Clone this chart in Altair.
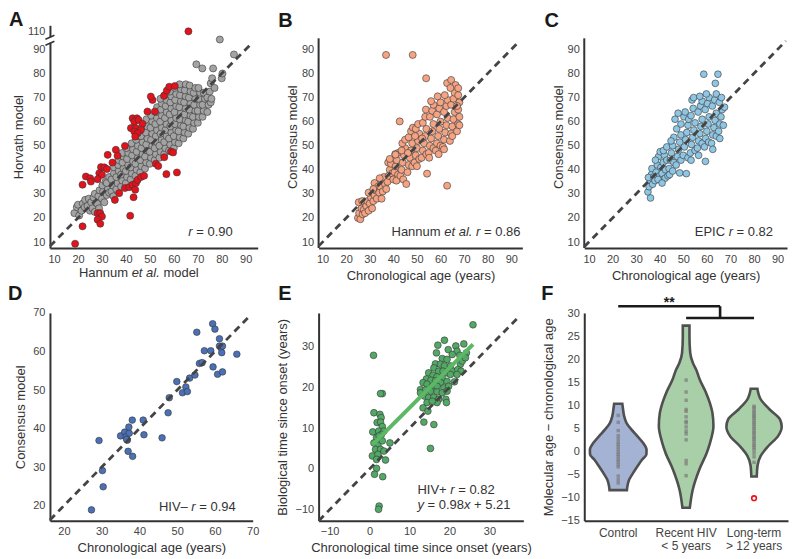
import altair as alt
import pandas as pd

FONT = "Liberation Sans"
INK = "#333333"
LABEL = "#444444"

# ---------------- Panel A : Hannum vs Horvath ----------------
A_GREY = [
    (18.5, 22), (19.5, 24.5), (20.5, 21), (20, 25.5),
    (21.5, 23), (22, 26), (22.8, 24.5), (23, 27.5),
    (24, 25), (24.5, 28), (25, 23), (25.5, 26.5),
    (26, 24), (26.5, 28.5), (27, 30), (27, 22.5),
    (28, 26), (28.5, 29), (29, 31.5), (28.8, 24),
    (30, 28), (30.5, 31), (30.2, 33.5), (31, 26.5), (31.5, 35),
    (32, 29.5), (32.5, 32), (32, 34.5), (33, 37), (33, 30.5),
    (34, 31), (34.5, 33.5), (34, 36), (35, 38.5), (35, 41), (34.8, 29),
    (36, 32), (36.5, 34.5), (36, 37), (37, 39.5), (36.8, 42), (37, 44),
    (38, 33), (38.5, 35.5), (38, 38), (39, 40.5), (38.6, 43), (39, 45.5), (38.5, 47),
    (40, 34.5), (40.5, 37), (40, 39.5), (41, 42), (40.5, 44.5), (41, 47), (40.2, 49),
    (42, 36), (42.5, 38.5), (42, 41), (43, 43.5), (42.6, 46), (43, 48.5), (42.4, 51),
    (44, 37.5), (44.5, 40), (44, 42.5), (45, 45), (44.5, 47.5), (45, 50), (44.3, 52.5), (45, 54),
    (46, 39), (46.5, 41.5), (46, 44), (47, 46.5), (46.5, 49), (47, 51.5), (46.3, 54), (47, 56.5),
    (48, 40.5), (48.5, 43), (48, 45.5), (49, 48), (48.5, 50.5), (49, 53), (48.3, 55.5), (49, 58), (48.6, 61),
    (50, 42.5), (50.5, 45), (50, 47.5), (51, 50), (50.5, 52.5), (51, 55), (50.3, 57.5), (51, 60), (50.6, 62.5),
    (52, 44), (52.5, 46.5), (52, 49), (53, 51.5), (52.5, 54), (53, 56.5), (52.3, 59), (53, 61.5), (52.6, 64), (53, 66),
    (54, 45), (54.5, 47.5), (54, 50), (55, 52.5), (54.5, 55), (55, 57.5), (54.3, 60), (55, 62.5), (54.6, 65), (55, 67.5), (54.4, 69.5),
    (56, 46.5), (56.5, 49), (56, 51.5), (57, 54), (56.5, 56.5), (57, 59), (56.3, 61.5), (57, 64), (56.6, 66.5), (57, 69), (56.2, 71),
    (58, 48), (58.5, 50.5), (58, 53), (59, 55.5), (58.5, 58), (59, 60.5), (58.3, 63), (59, 65.5), (58.6, 68), (59, 70.5), (58.4, 72.5),
    (60, 49), (60.5, 51.5), (60, 54), (61, 56.5), (60.5, 59), (61, 61.5), (60.3, 64), (61, 66.5), (60.6, 69), (61, 71.5), (60.4, 74),
    (62, 51), (62.5, 53.5), (62, 56), (63, 58.5), (62.5, 61), (63, 63.5), (62.3, 66), (63, 68.5), (62.6, 71), (63, 73.5), (62.4, 75.5),
    (64, 53), (64.5, 55.5), (64, 58), (65, 60.5), (64.5, 63), (65, 65.5), (64.3, 68), (65, 70.5), (64.6, 73), (65, 75.5),
    (66, 55), (66.5, 57.5), (66, 60), (67, 62.5), (66.5, 65), (67, 67.5), (66.3, 70), (67, 72.5), (66.6, 75),
    (68, 57), (68.5, 59.5), (68, 62), (69, 64.5), (68.5, 67), (69, 69.5), (68.3, 72), (69, 74),
    (70, 59.5), (70.5, 62), (70, 64.5), (71, 67), (70.5, 69.5), (71, 72), (70.3, 74),
    (72, 62), (72.5, 64.5), (72, 67), (73, 69.5), (72.5, 72),
    (74, 64), (74.5, 67), (74, 70), (75, 72.5), (75.4, 68), (75.7, 69.5),
    (76.4, 82.1), (79.2, 94.1), (85.1, 87.9), (69.4, 83.8), (71.9, 82.1), (80, 78), (80.3, 80),
    (75.4, 75.9), (77, 74), (76, 78),
]
A_RED = [
    (55.9, 70.7), (57.1, 72.9), (58.1, 74.5), (60.4, 74.8), (51.1, 69.0), (50.4, 70.4),
    (49.0, 64.2), (52.1, 64.2), (42.8, 61.4), (44.6, 61.4), (43.5, 60.0), (45.3, 60.7),
    (46.9, 59.1), (42.1, 57.3), (44.2, 57.3), (46.3, 56.6), (43.5, 55.9), (44.9, 55.2),
    (43.9, 53.8), (39.6, 49.9), (35.8, 48.3), (36.5, 45.8), (32.4, 46.2), (34.4, 43.0),
    (29.6, 41.1), (31.0, 41.0), (32.1, 40.3), (28.9, 38.6), (30.0, 37.9), (28.2, 36.1),
    (23.3, 37.2), (25.1, 36.5), (25.4, 35.1), (21.9, 33.8), (28.2, 22.0), (29.3, 22.0),
    (30.0, 20.6), (28.2, 19.3), (29.3, 17.6), (21.9, 16.5), (18.8, 9.3), (41.8, 20.9),
    (35.4, 27.5), (37.2, 30.3), (39.6, 32.4), (41.4, 32.8), (42.8, 33.8), (44.2, 34.5),
    (44.9, 35.8), (46.3, 37.0), (47.6, 37.5), (43.2, 28.6), (43.9, 31.7), (52.5, 42.5),
    (53.5, 41.6), (56.9, 38.2), (61.3, 38.9), (56.0, 45.2), (58.8, 47.6), (59.7, 47.2),
    (66.1, 110),
]
A_BREAK_VALUE = 110      # plotted just above the axis break
A_BREAK_POS = 97.5
DIAG_A = [8.3, 93]

# ---------------- Panel B : Hannum vs chronological age ----------------
B_PTS = [
    (25, 20), (25.5, 22), (26, 19.5), (26.5, 24), (25.3, 26.5), (27, 21.5), (27.5, 23.5), (26.8, 27),
    (28, 22), (28.5, 25), (29, 27), (29.5, 23), (30, 26), (30.5, 28.5), (29.5, 30.5), (31, 24),
    (31.5, 27), (32, 29.5), (32.5, 31.5), (33, 28), (32, 34.5), (33.5, 33), (31.5, 32),
    (34, 30.5), (34.5, 33), (35, 35.5), (35.5, 31), (36, 37), (35, 28), (36.5, 34), (34.2, 36.5),
    (37, 32), (37.5, 35), (38, 37.5), (38.5, 40), (37.8, 43), (39, 42.5), (39.5, 38.5), (38.5, 44.5),
    (40, 36), (40.5, 39), (41, 41.5), (41.5, 44), (42, 47), (40.8, 46.5), (42, 38), (41.3, 35.5), (42.7, 60.1),
    (43, 37.5), (43.5, 40), (44, 43), (44.5, 46), (45, 49), (43.8, 51), (45, 52.5), (44.2, 36), (45.5, 34.1), (43.5, 48),
    (46, 39), (46.5, 42), (47, 45), (47.5, 48), (48, 51), (46.5, 53.5), (47.5, 56), (48, 41.5), (46.2, 47), (48.3, 57.5),
    (49, 43), (49.5, 46), (50, 49), (50.5, 52), (51, 55), (49.5, 57), (50.5, 59), (51, 44.5), (50, 41.5), (49.2, 54),
    (52, 45), (52.5, 48), (53, 51), (53.5, 54), (54, 57), (52.5, 59.5), (53.5, 62), (54, 46.5), (52.2, 53), (54.3, 38.4), (53.8, 65),
    (55, 47), (55.5, 50), (56, 53), (56.5, 56), (57, 59), (55.5, 62), (56.5, 64.5), (57, 67), (55.2, 45), (57, 49), (56, 68.5),
    (58, 48), (58.5, 51), (59, 54), (59.5, 57), (60, 60), (58.5, 63), (59.5, 65.5), (60, 68), (58.8, 70.5), (60, 50), (59.2, 46.5),
    (61, 49.5), (61.5, 52.5), (62, 55.5), (62.5, 58.5), (63, 61.5), (61.5, 64), (62.5, 66.5), (63, 69), (61.8, 71), (62.8, 76), (62.8, 33.4), (61.5, 48.5),
    (64, 52), (64.5, 55), (65, 58), (65.5, 61), (66, 64), (64.5, 67), (65.5, 69.5), (66, 72), (64.5, 77.3), (66.4, 75.2), (65, 54), (64.2, 74),
    (67, 56), (67.5, 59), (68, 62), (67.5, 65), (68, 68), (67.5, 71), (67.5, 73.9), (68, 58.5), (67, 66.5),
    (36.9, 87.7), (48.2, 87.7), (53.9, 78.0), (40.9, 46.3),
]
DIAG_B = [8.3, 93.5]

# ---------------- Panel C : EPIC vs chronological age ----------------
C_PTS = [
    (35, 30.8), (36.1, 28.3), (35.5, 33), (36, 35.5), (36.5, 38), (35.2, 36.8), (37, 34), (36.7, 40.5), (37.5, 37),
    (38, 35.5), (38.5, 39), (39, 42), (39.5, 45.5), (38.2, 44), (40, 37.5), (40.5, 41), (39.3, 36), (40.2, 47.5),
    (41, 38.5), (41.5, 43), (42, 46), (42.5, 40), (43, 44), (41.6, 48), (43, 49.5), (42.3, 36.5), (43.5, 37.5), (41, 34.5),
    (44, 40.5), (44.5, 44), (45, 47), (45.5, 50), (44.2, 38), (46, 43), (46, 53.5), (44.8, 52), (46.5, 61), (45.5, 39.5),
    (47, 42), (47.5, 45.5), (48, 48.5), (48.5, 51.5), (49, 54.5), (47.2, 57), (48.5, 38.7), (49, 44), (47.8, 63.5), (49, 59),
    (50, 46), (50.5, 49.5), (51, 52.5), (51.5, 55.5), (52, 58.5), (50.3, 62), (51.3, 38.4), (52, 45), (50.8, 64), (52.3, 61),
    (53, 47), (53.5, 50.5), (54, 53.5), (54.5, 56.5), (55, 59.5), (53.3, 62.5), (54.2, 65.5), (53.7, 69), (54.4, 70), (55, 48), (53.3, 44),
    (56, 49), (56.5, 52), (57, 55), (57.5, 58), (58, 61), (56.3, 64), (57.3, 66.5), (58, 68.5), (56.5, 46), (58, 51), (57, 70.5),
    (59, 49.5), (59.5, 53), (60, 56), (60.5, 59), (61, 62), (59.3, 65), (60.3, 67.5), (61, 70), (59.4, 43.5), (60.8, 51.5), (59.8, 71.5), (58.7, 79.7),
    (62, 51), (62.5, 54.5), (63, 57.5), (63.5, 60.5), (64, 63.5), (62.3, 66.5), (63.3, 69), (64, 71.5), (63.6, 75.9), (62.5, 48.5), (64, 54),
    (65, 56), (65.5, 59), (66, 62), (66.5, 65), (65.3, 68), (66.2, 70), (67, 58.5), (67.5, 66), (64.7, 79.7), (65.5, 53),
]
DIAG_C = [8.0, 93.5]

# ---------------- Panel D : HIV- ----------------
D_PTS = [
    (27.3, 18.9), (29.3, 36.9), (30.2, 29.1), (30.4, 24.9), (35.0, 38.1), (36.1, 39.1), (36.5, 37.9),
    (36.8, 37.0), (37.3, 38.8), (37.2, 40.4), (37.0, 34.1), (38.1, 42.2), (38.2, 32.8), (36.6, 37.2),
    (41.0, 42.2), (41.2, 38.4), (46.0, 37.6), (47.6, 44.1), (47.9, 48.0), (49.9, 52.2), (51.4, 49.3),
    (52.3, 50.8), (52.7, 49.6), (53.3, 53.1), (54.7, 53.9), (55.2, 65.0), (55.9, 56.9), (56.6, 57.1),
    (57.2, 60.2), (58.9, 60.2), (59.5, 56.0), (59.4, 67.2), (60.0, 65.8), (60.7, 54.1), (61.2, 63.3),
    (61.2, 61.4), (61.6, 61.0), (61.8, 59.7), (62.0, 61.4), (62.0, 54.7), (65.8, 59.3),
]
DIAG_D = [16.3, 69.5]

# ---------------- Panel E : HIV+ time since onset ----------------
E_PTS = [
    (1.0, 27.9), (3.2, 18.5), (2.75, 18.5), (25.9, 35.4), (15.25, 5.05), (2.4, -9.1), (2.25, -9.9),
    (16.1, 10.9), (13.6, 11.5), (3.3, -1.9), (1.75, 0.15), (1.25, -1.3), (5.1, 6.4), (4.0, 2.2),
    (1.1, 13.8), (2.6, 13.4), (2.9, 12.6), (1.9, 11.4), (2.75, 11.5), (3.2, 10.4), (0.8, 9.1),
    (2.3, 9.3), (3.6, 9.3), (3.0, 8.5), (1.75, 7.7), (2.6, 7.3), (1.1, 6.4), (2.1, 5.8), (3.2, 6.9),
    (1.5, 4.8), (2.75, 4.8), (0.7, 3.2), (2.1, 3.6), (3.6, 4.4), (1.75, 2.35), (2.4, 8.1),
    (17.1, 30.4), (18.75, 31.6), (19.7, 29.3), (21.6, 30.2), (23.6, 30.7), (21.9, 28.9), (20.7, 28.1),
    (22.6, 27.9), (24.25, 28.5), (16.75, 28.5), (18.2, 27.1), (19.4, 26.9), (16.5, 25.8), (17.75, 25.7),
    (18.75, 25.3), (20.25, 25.3), (22.75, 25.7), (16.1, 24.8), (17.3, 24.0), (18.4, 24.0), (19.4, 23.6),
    (20.9, 24.0), (22.1, 24.4), (22.9, 24.0), (14.8, 23.6), (15.9, 23.0), (16.9, 22.6), (18.2, 22.4),
    (20.25, 23.2), (21.9, 23.2), (14.25, 22.1), (15.4, 21.8), (16.5, 21.6), (17.75, 21.2), (19.4, 21.5),
    (21.25, 21.4), (13.4, 21.2), (14.4, 20.8), (15.7, 20.3), (16.9, 20.3), (18.6, 19.9), (19.8, 20.3),
    (12.75, 19.5), (14.0, 19.4), (15.25, 19.1), (16.9, 18.9), (18.2, 18.7), (19.4, 19.1), (12.75, 18.7),
    (13.75, 17.9), (14.8, 17.5), (16.1, 17.6), (17.3, 17.1), (19.1, 17.1), (19.25, 16.3), (16.9, 16.3),
    (14.4, 16.3), (13.4, 15.0), (14.6, 14.2), (15.7, 16.6), (23.2, 26.5), (24.0, 27.3),
]
E_SLOPE = 0.98
E_INTERCEPT = 5.21
DIAG_E = [-12.7, 37.6]

# ---------------- Panel F : violins ----------------
F_GROUPS = ["Control", "Recent HIV", "Long-term"]
F_LABELS = ["Control", "Recent HIV\n< 5 years", "Long-term\n> 12 years"]
F_FILLS = ["#a4b2d4", "#a9cfa8", "#a9cfa8"]
# (value, half width in category units)
CONTROL_PROFILE = [(10.45, .06), (9.15, .072), (7.7, .088), (6.25, .123), (4.8, .196), (3.35, .284),
                   (1.9, .368), (0.45, .417), (-0.6, .415), (-1.7, .353), (-3.15, .284), (-4.6, .22),
                   (-6.05, .162), (-7.5, .135), (-8.35, .128)]
RECENT_PROFILE = [(27.45, .049), (25.1, .049), (21.5, .06), (19.3, .10), (17.9, .147), (15.7, .2),
                  (12.8, .294), (10.6, .35), (8.5, .387), (5.6, .402), (2.0, .353), (-0.2, .304),
                  (-3.8, .196), (-8.2, .098), (-12.2, .054)]
LONG_PROFILE = [(13.7, .049), (11.4, .098), (9.2, .23), (7.05, .382), (5.45, .407), (3.4, .353),
                (1.25, .211), (-0.9, .098), (-3.1, .05), (-5.4, .04)]
CONTROL_DOTS = [7.9, 6.4, 4.6, 3.5, 2.8, 2.1, 1.6, 1.1, 0.5, -0.1, -0.6, -1.1, -1.7, -2.2, -2.8,
                -3.3, -5.3, -6.1, -6.8]
RECENT_DOTS = [15.6, 13.0, 11.2, 9.2, 8.8, 7.6, 6.6, 6.3, 5.4, 4.5, 3.9, 2.6, -1.9, -2.6, -5.2]
LONG_DOTS = [9.9, 9.6, 9.1, 8.7, 8.3, 7.9, 7.6, 7.2, 6.8, 6.3, 6.0, 5.5, 5.1, 4.7, 4.2, 3.9, 3.4,
             3.0, 2.7, 2.2, 1.7, 1.3, 0.9, 0.4, -0.3, -1.1, -2.3]
LONG_OUTLIER = [-10.1]
BR_X1 = [0, 1.5, 1]
BR_X2 = [1.5, 1.5, 2]
BR_Y1 = [31.66, 31.66, 29.1]
BR_Y2 = [31.66, 29.1, 29.1]
SIG_TEXT = "**"

ONE = pd.DataFrame({"k": [0]})


def txt(s, x, y, size=13, style="normal", weight="normal", align="left", color=INK):
    return alt.Chart(ONE).mark_text(
        text=s, align=align, baseline="alphabetic", font=FONT, fontSize=size,
        fontStyle=style, fontWeight=weight, color=color,
    ).encode(x=alt.value(x), y=alt.value(y))


def letter(s, x, y):
    return txt(s, x, y, size=20, weight="bold", color="#1a1a1a")


def pts_df(pairs):
    return pd.DataFrame(pairs, columns=["x", "y"])


def points(df, xs, ys, xax, yax, fill, size=50, yfield="y"):
    return alt.Chart(df).mark_point(
        shape="circle", filled=True, fill=fill, stroke="#383838", strokeWidth=0.6,
        size=size, opacity=1,
    ).encode(
        x=alt.X("x:Q", scale=xs, axis=xax),
        y=alt.Y(yfield + ":Q", scale=ys, axis=yax),
    )


def diag(ends, xs, ys, xax, yax):
    return alt.Chart(pd.DataFrame({"x": ends, "y": ends})).mark_line(
        color="#444444", strokeDash=[7, 5], strokeWidth=2.8,
    ).encode(x=alt.X("x:Q", scale=xs, axis=xax), y=alt.Y("y:Q", scale=ys, axis=yax))


def sc(lo, hi):
    return alt.Scale(domain=[lo, hi], nice=False, zero=False)


ROW1_Y = sc(7.5, 100)
TICKS_10_90 = list(range(10, 100, 10))

# ----- A -----
xsA = sc(8.3, 95)
xaxA = alt.Axis(values=TICKS_10_90, title=None)
yaxA = alt.Axis(values=TICKS_10_90 + [A_BREAK_POS], title="Horvath model", titlePadding=2,
                labelExpr=f"datum.value > 95 ? '{A_BREAK_VALUE}' : datum.label")
dfA_red = pts_df(A_RED)
dfA_red["yp"] = [A_BREAK_POS if v > 100 else v for v in dfA_red["y"]]
panelA = alt.layer(
    points(pts_df(A_GREY), xsA, ROW1_Y, xaxA, yaxA, "#a3a3a3"),
    diag(DIAG_A, xsA, ROW1_Y, xaxA, yaxA),
    points(dfA_red, xsA, ROW1_Y, xaxA, yaxA, "#e3121b", yfield="yp"),
    alt.Chart(ONE).mark_rect(color="white").encode(
        x=alt.value(-3), x2=alt.value(3), y=alt.value(12), y2=alt.value(17.5)),
    alt.Chart(ONE).mark_rule(color=INK, strokeWidth=1.6).encode(
        x=alt.value(-4.5), x2=alt.value(4.5), y=alt.value(14), y2=alt.value(10)),
    alt.Chart(ONE).mark_rule(color=INK, strokeWidth=1.6).encode(
        x=alt.value(-4.5), x2=alt.value(4.5), y=alt.value(20), y2=alt.value(16)),
    txt("r", 138.6, 211, style="italic"),
    txt("= 0.90", 146.5, 211),
    txt("Hannum", 29, 252),
    txt("et al.", 81.8, 252, style="italic"),
    txt("model", 113.6, 252),
    letter("A", -41, 1),
).properties(width=208, height=223)

# ----- B -----
xsB = sc(8.3, 94.7)
xaxB = alt.Axis(values=TICKS_10_90, title="Chronological age (years)")
yaxB = alt.Axis(values=TICKS_10_90, title="Consensus model", domain=False, titlePadding=2)
panelB = alt.layer(
    alt.Chart(ONE).mark_rule(color=INK, strokeWidth=2).encode(
        x=alt.value(0), y=alt.Y(datum=7.5, scale=ROW1_Y, axis=yaxB), y2=alt.datum(94.6)),
    points(pts_df(B_PTS), xsB, ROW1_Y, xaxB, yaxB, "#f4a383"),
    diag(DIAG_B, xsB, ROW1_Y, xaxB, yaxB),
    txt("Hannum", 73, 211),
    txt("et al. r", 125.8, 211, style="italic"),
    txt("= 0.86", 165.6, 211),
    letter("B", -40.3, 1.5),
).properties(width=204, height=223)

# ----- C -----
xsC = sc(8.0, 94)
xaxC = alt.Axis(values=TICKS_10_90, title="Chronological age (years)")
yaxC = alt.Axis(values=TICKS_10_90, title="Consensus model", domain=False, titlePadding=2)
panelC = alt.layer(
    alt.Chart(ONE).mark_rule(color=INK, strokeWidth=2).encode(
        x=alt.value(0), y=alt.Y(datum=7.5, scale=ROW1_Y, axis=yaxC), y2=alt.datum(94.6)),
    points(pts_df(C_PTS), xsC, ROW1_Y, xaxC, yaxC, "#8ec6e3", size=46),
    diag(DIAG_C, xsC, ROW1_Y, xaxC, yaxC),
    txt("EPIC", 110.7, 211),
    txt("r", 144.6, 211, style="italic"),
    txt("= 0.82", 152.5, 211),
    letter("C", -39.7, 1.5),
).properties(width=203, height=223)

# ----- D -----
xsD = sc(16.3, 70)
ysD = sc(16.1, 70)
xaxD = alt.Axis(values=list(range(20, 71, 10)), title="Chronological age (years)")
yaxD = alt.Axis(values=list(range(20, 71, 10)), title="Consensus model")
panelD = alt.layer(
    points(pts_df(D_PTS), xsD, ysD, xaxD, yaxD, "#4a70b5", size=44),
    diag(DIAG_D, xsD, ysD, xaxD, yaxD),
    txt("HIV\u2013", 109.1, 198),
    txt("r", 141.6, 198, style="italic"),
    txt("= 0.94", 149.5, 198),
    letter("D", -42, -13),
).properties(width=203, height=208)

# ----- E -----
xsE = sc(-12.75, 38.5)
ysE = sc(-12.7, 38.3)
TICKS_E = [-10, 0, 10, 20, 30]
xaxE = alt.Axis(values=TICKS_E, title="Chronological time since onset (years)")
yaxE = alt.Axis(values=TICKS_E, title="Biological time since onset (years)")
dfE = pts_df(E_PTS)
fit = alt.Chart(dfE).transform_aggregate(
    x0="min(x)", x1="max(x)"
).transform_calculate(
    y0=f"{E_SLOPE} * datum.x0 + {E_INTERCEPT}",
    y1=f"{E_SLOPE} * datum.x1 + {E_INTERCEPT}",
).mark_rule(color="#5cb865", strokeWidth=4).encode(
    x=alt.X("x0:Q", scale=xsE, axis=xaxE), x2="x1:Q",
    y=alt.Y("y0:Q", scale=ysE, axis=yaxE), y2="y1:Q",
)
panelE = alt.layer(
    points(dfE, xsE, ysE, xaxE, yaxE, "#52a865", size=46),
    fit,
    diag(DIAG_E, xsE, ysE, xaxE, yaxE),
    txt("HIV+", 99, 181),
    txt("r", 131.9, 181, style="italic"),
    txt("= 0.82", 139.8, 181),
    txt("y", 99, 196.5, style="italic"),
    txt("= 0.98", 109.1, 196.5),
    txt("x", 145.6, 196.5, style="italic"),
    txt("+ 5.21", 155.7, 196.5),
    letter("E", -40.3, -13),
).properties(width=205, height=208)

# ----- F -----
xsF = sc(-0.5, 2.5)
ysF = sc(-15, 30.2)
xaxF = alt.Axis(values=[0, 1, 2], labels=False, title=None)
yaxF = alt.Axis(values=list(range(-15, 31, 5)), title="Molecular age  \u2212 chronological age")

prof_rows = []
for g, i, prof in [(F_GROUPS[0], 0, CONTROL_PROFILE), (F_GROUPS[1], 1, RECENT_PROFILE),
                   (F_GROUPS[2], 2, LONG_PROFILE)]:
    for v, w in prof:
        prof_rows.append({"g": g, "idx": i, "v": v, "w": w})
dfV = pd.DataFrame(prof_rows)

dot_rows = []
for i, vals in enumerate([CONTROL_DOTS, RECENT_DOTS, LONG_DOTS]):
    for v in vals:
        dot_rows.append({"idx": i, "v": v})
dfDots = pd.DataFrame(dot_rows)

violins = alt.Chart(dfV).transform_calculate(
    lo="datum.idx - datum.w", hi="datum.idx + datum.w"
).mark_area(
    orient="horizontal", interpolate="monotone", stroke="#505050", strokeWidth=2.6, opacity=1,
).encode(
    y=alt.Y("v:Q", scale=ysF, axis=yaxF),
    x=alt.X("lo:Q", scale=xsF, axis=xaxF),
    x2="hi:Q",
    fill=alt.Fill("g:N", scale=alt.Scale(domain=F_GROUPS, range=F_FILLS), legend=None),
    detail="g:N",
)
dots = alt.Chart(dfDots).mark_square(size=12, color="#7a7a7a", opacity=0.7).encode(
    x=alt.X("idx:Q", scale=xsF, axis=xaxF), y=alt.Y("v:Q", scale=ysF, axis=yaxF))
outlier = alt.Chart(pd.DataFrame({"idx": [2] * len(LONG_OUTLIER), "v": LONG_OUTLIER})).mark_point(
    shape="circle", filled=False, color="#e8141a", strokeWidth=1.6, size=22, opacity=1,
).encode(x=alt.X("idx:Q", scale=xsF, axis=xaxF), y=alt.Y("v:Q", scale=ysF, axis=yaxF))
bracket = alt.Chart(pd.DataFrame({"x1": BR_X1, "x2": BR_X2, "y1": BR_Y1, "y2": BR_Y2})).mark_rule(
    color="#1a1a1a", strokeWidth=2.6,
).encode(
    x=alt.X("x1:Q", scale=xsF, axis=xaxF), x2="x2:Q",
    y=alt.Y("y1:Q", scale=ysF, axis=yaxF), y2="y2:Q",
)
stars = alt.Chart(pd.DataFrame({"x": [0.75], "y": [31.5], "t": [SIG_TEXT]})).mark_text(
    font=FONT, fontSize=14, fontWeight="bold", color="#1a1a1a", baseline="alphabetic", align="center",
).encode(x=alt.X("x:Q", scale=xsF, axis=xaxF), y=alt.Y("y:Q", scale=ysF, axis=yaxF), text="t:N")
cat_labels = alt.Chart(pd.DataFrame({"idx": [0, 1, 2], "lab": F_LABELS})).mark_text(
    font=FONT, fontSize=12, color=LABEL, baseline="alphabetic", align="center",
    lineBreak="\n", lineHeight=13.5,
).encode(x=alt.X("idx:Q", scale=xsF, axis=xaxF), y=alt.value(224), text="lab:N")

panelF = alt.layer(
    violins, dots, outlier, bracket, stars, cat_labels, letter("F", -43, -13),
).properties(width=204, height=208)

chart = alt.concat(
    panelA, panelB, panelC, panelD, panelE, panelF,
    columns=3, spacing={"row": 65, "column": 61}, bounds="flush",
).properties(
    padding={"left": 0, "top": 2, "right": 0, "bottom": 0},
).configure_view(stroke=None).configure_axis(
    domainColor=INK, domainWidth=2, ticks=False, grid=False,
    labelColor=LABEL, labelFont=FONT, labelFontSize=11, labelPadding=5,
    labelFlush=False, labelOverlap=False, labelBound=False,
    titleFont=FONT, titleFontSize=13, titleFontWeight="normal", titleColor=INK, titlePadding=5,
)

chart.save("out.html", embed_options={"renderer": "svg", "actions": False})
